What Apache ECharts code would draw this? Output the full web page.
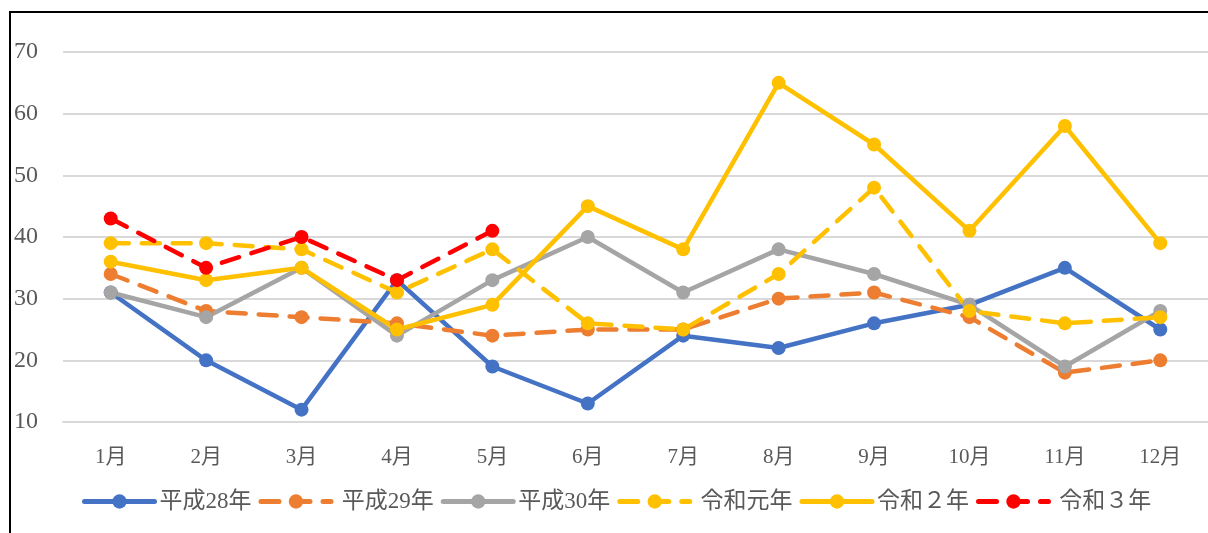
<!DOCTYPE html>
<html>
<head>
<meta charset="utf-8">
<script src="https://cdn.jsdelivr.net/npm/echarts@6/dist/echarts.min.js"></script>
<style>
  html, body { margin: 0; padding: 0; background: #fff; }
  #chart { width: 1208px; height: 533px; }
</style>
</head>
<body>
<div id="chart"></div>
<script>
var months = ['1月', '2月', '3月', '4月', '5月', '6月', '7月', '8月', '9月', '10月', '11月', '12月'];
var yTicks = [10, 20, 30, 40, 50, 60, 70];

var h28 = [31, 20, 12, 33, 19, 13, 24, 22, 26, 29, 35, 25];
var h29 = [34, 28, 27, 26, 24, 25, 25, 30, 31, 27, 18, 20];
var h30 = [31, 27, 35, 24, 33, 40, 31, 38, 34, 29, 19, 28];
var r1 = [39, 39, 38, 31, 38, 26, 25, 34, 48, 28, 26, 27];
var r2 = [36, 33, 35, 25, 29, 45, 38, 65, 55, 41, 58, 39];
var r3 = [43, 35, 40, 33, 41];

// 凡例の先頭スペースは元の図の通り
var seriesNames = ['平成28年', ' 平成29年', '平成30年', ' 令和元年', '令和２年', ' 令和３年'];
var colors = ['#4472C4', '#ED7D31', '#A5A5A5', '#FFC000', '#FFC000', '#FF0000'];

var dash = [18, 13];

function mkLine(i, data, dashed) {
    return {
        name: seriesNames[i],
        type: 'line',
        data: data,
        symbol: 'circle',
        symbolSize: 14,
        color: colors[i],
        lineStyle: { width: 4.5, color: colors[i], type: dashed ? dash : 'solid', cap: dashed ? 'round' : 'butt' },
        itemStyle: { color: colors[i] },
        emphasis: { disabled: true },
        animation: false
    };
}

var serif = '"Liberation Serif", "Noto Sans CJK JP", serif';

var chart = echarts.init(document.getElementById('chart'));
chart.setOption({
    graphic: [{
        type: 'rect',
        shape: { x: 10, y: 12, width: 1400, height: 700 },
        style: { fill: 'none', stroke: '#000', lineWidth: 2 },
        silent: true
    }],
    grid: { left: 63, right: -4, top: 52, bottom: 111 },
    legend: {
        top: 485,
        left: 77,
        itemWidth: 70,
        itemHeight: 18,
        itemGap: 7,
        lineStyle: { width: 5, cap: 'round' },
        textStyle: { fontFamily: serif, fontSize: 23, color: '#595959' },
        data: seriesNames
    },
    xAxis: {
        type: 'category',
        data: months,
        axisLine: { show: true, lineStyle: { color: '#d9d9d9', width: 2 } },
        axisTick: { show: false },
        axisLabel: { fontFamily: serif, fontSize: 21, color: '#595959', margin: 25 }
    },
    yAxis: {
        type: 'value',
        min: yTicks[0],
        max: yTicks[yTicks.length - 1],
        interval: 10,
        axisLine: { show: false },
        axisTick: { show: false },
        splitLine: { lineStyle: { color: '#d9d9d9', width: 2 } },
        axisLabel: { fontFamily: serif, fontSize: 24, color: '#595959', align: 'left', margin: 49 }
    },
    series: [
        mkLine(0, h28, false),
        mkLine(1, h29, true),
        mkLine(2, h30, false),
        mkLine(3, r1, true),
        mkLine(4, r2, false),
        mkLine(5, r3, true)
    ]
});
</script>
</body>
</html>
